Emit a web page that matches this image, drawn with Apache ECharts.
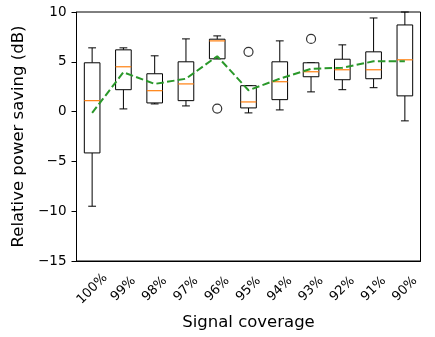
<!DOCTYPE html>
<html>
<head>
<meta charset="utf-8">
<script src="https://cdn.jsdelivr.net/npm/echarts@6/dist/echarts.min.js"></script>
<style>
  html, body { margin: 0; padding: 0; background: #fff; }
  #chart { width: 435px; height: 337px; }
</style>
</head>
<body>
<div id="chart"></div>
<script>
// signal coverage categories
const categories = ['100%', '99%', '98%', '97%', '96%', '95%', '94%', '93%', '92%', '91%', '90%'];
// box stats (dB)
const whiskerLow = [-9.5, 0.27, 0.77, 0.57, 5.3, -0.13, 0.17, 1.98, 2.2, 2.4, -0.93];
const q1 = [-4.15, 2.2, 0.87, 1.1, 5.3, 0.37, 1.2, 3.5, 3.2, 3.3, 1.58];
const medians = [1.1, 4.5, 2.1, 2.78, 7.1, 0.97, 3.0, 4.0, 4.2, 4.2, 5.2];
const q3 = [4.9, 6.2, 3.8, 5.0, 7.27, 2.6, 5.0, 4.9, 5.26, 6.0, 8.7];
const whiskerHigh = [6.4, 6.4, 5.6, 7.3, 7.6, 2.6, 7.1, 4.9, 6.7, 9.4, 10];
// mean per category
const means = [-0.13, 3.95, 2.78, 3.3, 5.56, 2.14, 3.3, 4.3, 4.4, 5.05, 5.05];
// fliers [categoryIndex, value]
const outliers = [[4, 0.3], [5, 6.0], [7, 7.3]];
const yTicks = { min: -15, max: 10, interval: 5 };

const font = 'DejaVu Sans';
const boxData = categories.map((c, i) => [i, whiskerLow[i], q1[i], medians[i], q3[i], whiskerHigh[i]]);

function renderBox(params, api) {
  const i = api.value(0);
  const bw = api.size([1, 0])[0] * 0.5;
  const lo = api.coord([i, api.value(1)]);
  const b1 = api.coord([i, api.value(2)]);
  const md = api.coord([i, api.value(3)]);
  const b3 = api.coord([i, api.value(4)]);
  const hi = api.coord([i, api.value(5)]);
  const x = lo[0];
  const cap = bw / 4;
  const ls = { stroke: '#000', lineWidth: 1, fill: null };
  return {
    type: 'group',
    children: [
      { type: 'line', shape: { x1: x, y1: b1[1], x2: x, y2: lo[1] }, style: ls },
      { type: 'line', shape: { x1: x, y1: b3[1], x2: x, y2: hi[1] }, style: ls },
      { type: 'line', shape: { x1: x - cap, y1: lo[1], x2: x + cap, y2: lo[1] }, style: ls },
      { type: 'line', shape: { x1: x - cap, y1: hi[1], x2: x + cap, y2: hi[1] }, style: ls },
      { type: 'rect', shape: { x: x - bw / 2, y: b3[1], width: bw, height: b1[1] - b3[1] }, style: { stroke: '#000', lineWidth: 1, fill: '#fff' } },
      { type: 'line', shape: { x1: x - bw / 2, y1: md[1], x2: x + bw / 2, y2: md[1] }, style: { stroke: '#ff7f0e', lineWidth: 1.2 } }
    ]
  };
}

const chart = echarts.init(document.getElementById('chart'));
chart.setOption({
  animation: false,
  grid: { left: 76.5, right: 14.5, top: 12, bottom: 76, show: true, borderColor: '#000', borderWidth: 1 },
  xAxis: {
    type: 'category',
    data: categories,
    name: 'Signal coverage',
    nameLocation: 'middle',
    nameGap: 52,
    nameTextStyle: { fontFamily: font, fontSize: 16.5, color: '#000' },
    axisLine: { onZero: false, lineStyle: { color: '#000' } },
    axisTick: { alignWithLabel: true, length: 5, lineStyle: { color: '#000' } },
    axisLabel: { rotate: 45, align: 'center', verticalAlign: 'middle', fontFamily: font, fontSize: 13, color: '#000', margin: 28, interval: 0 },
    splitLine: { show: false }
  },
  yAxis: {
    type: 'value',
    min: yTicks.min,
    max: yTicks.max,
    interval: yTicks.interval,
    name: 'Relative power saving (dB)',
    nameLocation: 'middle',
    nameGap: 46,
    nameTextStyle: { fontFamily: font, fontSize: 16.5, color: '#000' },
    axisLine: { show: true, lineStyle: { color: '#000' } },
    axisTick: { show: true, length: 5, lineStyle: { color: '#000' } },
    axisLabel: { fontFamily: font, fontSize: 13.5, color: '#000', margin: 10,
      formatter: v => v < 0 ? '\u2212' + Math.abs(v) : String(v) },
    splitLine: { show: false }
  },
  series: [
    {
      type: 'custom',
      renderItem: renderBox,
      data: boxData,
      encode: { x: 0, y: [1, 2, 3, 4, 5] },
      z: 2
    },
    {
      type: 'scatter',
      data: outliers,
      symbol: 'circle',
      symbolSize: 9,
      itemStyle: { color: 'rgba(0,0,0,0)', borderColor: '#000', borderWidth: 1.2 },
      z: 3
    },
    {
      type: 'line',
      data: means,
      showSymbol: false,
      lineStyle: { color: '#2a982a', width: 2, type: [7.5, 3.3] },
      z: 4
    }
  ]
});
</script>
</body>
</html>
